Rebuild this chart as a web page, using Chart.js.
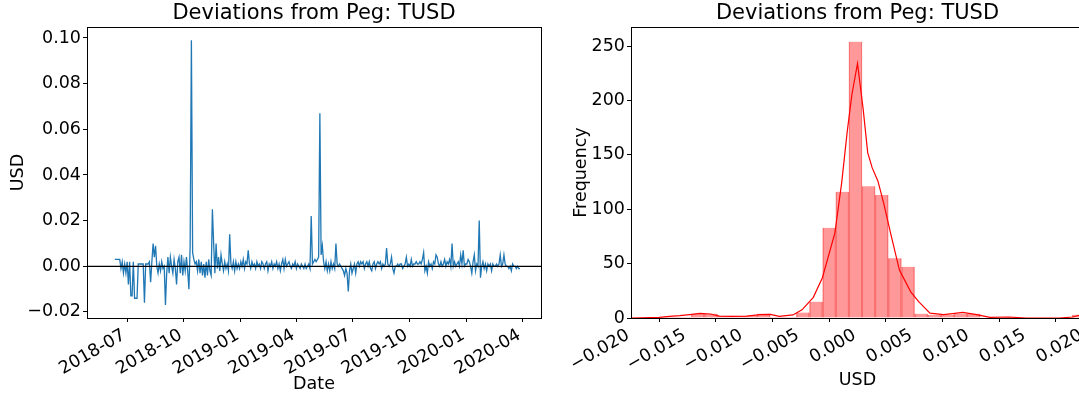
<!DOCTYPE html>
<html>
<head>
<meta charset="utf-8">
<script src="https://cdn.jsdelivr.net/npm/chart.js@4/dist/chart.umd.min.js"></script>
<style>
  html, body { margin: 0; padding: 0; background: #fff; overflow: hidden; }
  #wrap { position: relative; width: 1079px; height: 395px; overflow: hidden; }
  #lineChart { position: absolute; left: 0; top: 0; }
  #histChart { position: absolute; left: 560px; top: 0; }
</style>
</head>
<body>
<div id="wrap">
  <canvas id="lineChart" width="560" height="395"></canvas>
  <canvas id="histChart" width="540" height="395"></canvas>
</div>
<script>
// left panel: daily deviation of TUSD from $1, sampled every 2 days
const startDate = '2018-06-11';
const stepDays = 2;
const deviations = [
  0.003, 0.003, 0.003, 0.003, 0.003, -0.001, 0.002, -0.003, 0.001, -0.003,
  0.002, -0.008, 0.002, -0.013, -0.013, 0.002, -0.014, -0.014, -0.014, 0.001,
  0.001, 0.001, 0.001, 0.001, -0.016, 0.001, 0.001, 0.001, 0.002, -0.007,
  0.002, 0.010, 0.004, 0.009, 0.000, -0.003, 0.001, -0.002, 0.002, -0.001,
  0.000, -0.017, -0.003, 0.004, -0.003, 0.004, 0.000, -0.003, 0.003, -0.001,
  -0.008, 0.002, 0.004, -0.003, 0.005, -0.004, 0.002, -0.002, 0.004, -0.002,
  -0.010, 0.009, 0.099, 0.006, 0.003, 0.001, 0.002, -0.002, 0.003, -0.003,
  0.002, -0.004, 0.001, -0.005, 0.002, -0.004, 0.003, -0.002, -0.004, 0.025,
  0.010, -0.003, 0.010, -0.001, 0.004, -0.002, 0.005, 0.001, -0.002, 0.002,
  -0.001, 0.001, -0.002, 0.014, 0.001, -0.001, 0.002, -0.002, 0.002, -0.001,
  0.001, -0.001, 0.002, 0.000, 0.003, -0.001, 0.002, 0.001, 0.007, 0.001,
  -0.001, 0.002, 0.000, 0.001, -0.001, 0.002, 0.000, 0.001, -0.001, 0.002,
  0.001, -0.001, 0.001, 0.002, -0.002, 0.001, 0.000, 0.002, -0.001, 0.001,
  0.000, 0.002, -0.001, 0.001, -0.002, 0.001, 0.003, -0.001, 0.003, 0.000,
  0.001, 0.002, 0.000, -0.001, 0.001, 0.000, 0.002, -0.001, 0.001, 0.000,
  -0.001, 0.001, 0.000, -0.001, 0.001, -0.001, 0.000, 0.001, -0.001, 0.022,
  0.001, 0.002, 0.003, 0.002, 0.003, 0.004, 0.067, 0.005, 0.009, 0.002,
  -0.001, 0.002, -0.002, 0.001, -0.002, 0.002, -0.001, 0.001, -0.001, 0.010,
  0.001, 0.000, 0.001, 0.000, -0.001, -0.002, -0.004, -0.001, -0.003, -0.011,
  -0.002, 0.001, -0.003, -0.001, 0.001, -0.003, 0.001, 0.002, 0.000, 0.002,
  0.001, 0.002, -0.001, 0.001, 0.002, 0.000, 0.002, -0.001, -0.002, 0.001,
  0.002, -0.001, 0.001, 0.002, 0.001, 0.002, -0.001, 0.001, 0.000, 0.001,
  0.008, 0.001, 0.000, 0.001, 0.004, -0.001, -0.003, 0.000, 0.000, 0.001,
  0.000, 0.001, 0.001, -0.001, 0.000, 0.001, 0.004, 0.000, 0.001, 0.000,
  0.003, 0.000, 0.001, 0.001, 0.002, 0.001, 0.001, 0.002, 0.001, 0.003,
  0.006, -0.002, 0.000, -0.003, 0.002, 0.000, 0.001, -0.001, 0.002, 0.001,
  0.005, 0.004, 0.001, 0.000, 0.002, 0.000, 0.001, 0.003, 0.000, 0.002,
  0.001, 0.003, 0.000, 0.010, 0.000, 0.002, 0.000, 0.001, 0.002, 0.000,
  0.005, 0.001, 0.007, 0.000, 0.001, 0.001, 0.003, 0.002, 0.000, -0.003,
  0.002, 0.005, -0.002, 0.001, 0.000, 0.020, -0.005, 0.000, 0.002, -0.001,
  0.001, -0.002, 0.001, 0.000, 0.001, -0.002, 0.001, 0.000, 0.000, 0.001,
  0.000, 0.001, 0.005, 0.000, 0.001, 0.005, 0.001, 0.000, 0.000, -0.001,
  0.000, -0.002, 0.001, 0.000, 0.000, -0.001, 0.000, -0.001, -0.001
];
const dateTicks = ['2018-07', '2018-10', '2019-01', '2019-04', '2019-07', '2019-10', '2020-01', '2020-04'];
const dateMin = '2018-04-27';
const dateMax = '2020-05-01';
const usdTicks = [-0.02, 0.00, 0.02, 0.04, 0.06, 0.08, 0.10];

// right panel: histogram (100 bins over the full range, only part visible) + kde
const binStart = -0.0170;
const binWidth = 0.00116;
const binCounts = [1, 1, 4, 4, 2, 2, 2, 4, 1, 1, 5, 15, 83, 116, 254, 121, 113, 55, 47, 4,
                   3, 3, 4, 4, 0, 0, 1, 0, 0, 0, 0, 3];
const kdeX = [-0.0200, -0.0175, -0.0166, -0.0157, -0.0148, -0.0139, -0.0130, -0.0122, -0.0110, -0.0098,
              -0.0086, -0.0077, -0.0069, -0.0057, -0.0049, -0.0039, -0.0031, -0.0020, -0.0014, -0.0009,
              -0.0005, 0.0000, 0.0005, 0.0009, 0.0013, 0.0018, 0.0023, 0.0029, 0.0037, 0.0047,
              0.0054, 0.0064, 0.0076, 0.0084, 0.0093, 0.0105, 0.0117, 0.0134, 0.0149, 0.0178,
              0.0190, 0.0200];
const kdeY = [0, 0.6, 1.5, 2.1, 3.1, 4.3, 3.7, 1.8, 1.5, 1.8,
              3.1, 3.4, 1.5, 2.8, 7.5, 19, 37, 78, 124, 172,
              205, 234, 192, 152, 138, 126, 106, 79, 44, 24,
              15, 4.5, 3.1, 4, 5.2, 3.1, 0.6, 0.9, 0, 0,
              0.9, 3.5];
const freqTicks = [0, 50, 100, 150, 200, 250];
const chartTitle = 'Deviations from Peg: TUSD';

const FONT = 'DejaVu Sans';
Chart.defaults.color = '#000';
Chart.defaults.font.family = FONT;
Chart.defaults.font.size = 17.5;
Chart.defaults.animation = false;

function dayNum(s) {
  const p = s.split('-').map(Number);
  return Date.UTC(p[0], p[1] - 1, p[2] || 1) / 86400000;
}
function minus(s) { return s.replace('-', '\u2212'); }

// axes box on all four sides + title centred over the plot area (like matplotlib)
const frame = {
  id: 'frame',
  afterDraw(chart) {
    const { ctx, chartArea: a } = chart;
    ctx.save();
    ctx.strokeStyle = '#000';
    ctx.lineWidth = 1;
    ctx.strokeRect(Math.round(a.left) + 0.5, Math.round(a.top) + 0.5,
                   Math.round(a.right - a.left), Math.round(a.bottom - a.top));
    ctx.font = '21px "' + FONT + '"';
    ctx.fillStyle = '#000';
    ctx.textAlign = 'center';
    ctx.textBaseline = 'middle';
    ctx.fillText(chartTitle, (a.left + a.right) / 2, 14);
    ctx.restore();
  }
};

const tickGrid = { drawOnChartArea: false, drawTicks: true, tickLength: 4, color: '#000', lineWidth: 1 };

// ---- left chart
const start = dayNum(startDate);
const linePts = deviations.map((v, i) => ({ x: start + i * stepDays, y: v }));
const xMin = dayNum(dateMin), xMax = dayNum(dateMax);

new Chart(document.getElementById('lineChart'), {
  type: 'line',
  data: {
    datasets: [
      { data: [{ x: xMin, y: 0 }, { x: xMax, y: 0 }], borderColor: '#000', borderWidth: 1.3, pointRadius: 0 },
      { data: linePts, borderColor: '#1f77b4', borderWidth: 1.3, pointRadius: 0, tension: 0 }
    ]
  },
  options: {
    responsive: false,
    layout: { padding: { left: 0, right: 19, top: 27, bottom: 0 } },
    plugins: { legend: { display: false }, tooltip: { enabled: false } },
    scales: {
      x: {
        type: 'linear', min: xMin, max: xMax,
        afterFit: s => { s.height = 77; },
        afterBuildTicks: s => { s.ticks = dateTicks.map(t => ({ value: dayNum(t + '-01') })); },
        ticks: {
          autoSkip: false, minRotation: 30, maxRotation: 30, padding: 3, labelOffset: -3,
          callback: v => { const i = dateTicks.findIndex(t => dayNum(t + '-01') === v); return i >= 0 ? dateTicks[i] : ''; }
        },
        grid: tickGrid, border: { display: false },
        title: { display: true, text: 'Date', padding: { top: 0, bottom: 0 } }
      },
      y: {
        min: -0.02265, max: 0.1048,
        afterFit: s => { s.width = 87; },
        afterBuildTicks: s => { s.ticks = usdTicks.map(v => ({ value: v })); },
        ticks: { padding: 2, callback: v => minus(v.toFixed(2)) },
        grid: tickGrid, border: { display: false },
        title: { display: true, text: 'USD', padding: { top: 8, bottom: 0 } }
      }
    }
  },
  plugins: [frame]
});

// ---- right chart
const histPts = binCounts.map((c, k) => ({ x: binStart + (k + 0.5) * binWidth, y: c }));
const kdePts = kdeX.map((x, i) => ({ x: x, y: kdeY[i] }));
const usdBinTicks = [-0.020, -0.015, -0.010, -0.005, 0.000, 0.005, 0.010, 0.015, 0.020];

new Chart(document.getElementById('histChart'), {
  type: 'bar',
  data: {
    datasets: [
      { type: 'line', data: kdePts, borderColor: '#ff0000', borderWidth: 1.2, pointRadius: 0, tension: 0 },
      { type: 'bar', data: histPts, backgroundColor: 'rgba(255,0,0,0.4)', borderColor: 'rgba(235,0,0,0.4)',
        borderWidth: { left: 0.7, right: 0.7, top: 0, bottom: 0 }, barPercentage: 1, categoryPercentage: 1, grouped: false }
    ]
  },
  options: {
    responsive: false,
    layout: { padding: { left: 0, right: 16, top: 27, bottom: 0 } },
    plugins: { legend: { display: false }, tooltip: { enabled: false } },
    scales: {
      x: {
        type: 'linear', min: -0.02, max: 0.02, offset: false,
        afterFit: s => { s.height = 77; },
        afterBuildTicks: s => { s.ticks = usdBinTicks.map(v => ({ value: v })); },
        ticks: { autoSkip: false, minRotation: 30, maxRotation: 30, padding: 3, labelOffset: -3, callback: v => minus(v.toFixed(3)) },
        grid: tickGrid, border: { display: false },
        title: { display: true, text: 'USD', padding: { top: 0, bottom: 4 } }
      },
      y: {
        min: 0, max: 267.5,
        afterFit: s => { s.width = 71; },
        afterBuildTicks: s => { s.ticks = freqTicks.map(v => ({ value: v })); },
        ticks: { padding: 2, callback: v => String(v) },
        grid: tickGrid, border: { display: false },
        title: { display: true, text: 'Frequency', padding: { top: 11, bottom: 0 } }
      }
    }
  },
  plugins: [frame]
});
</script>
</body>
</html>
